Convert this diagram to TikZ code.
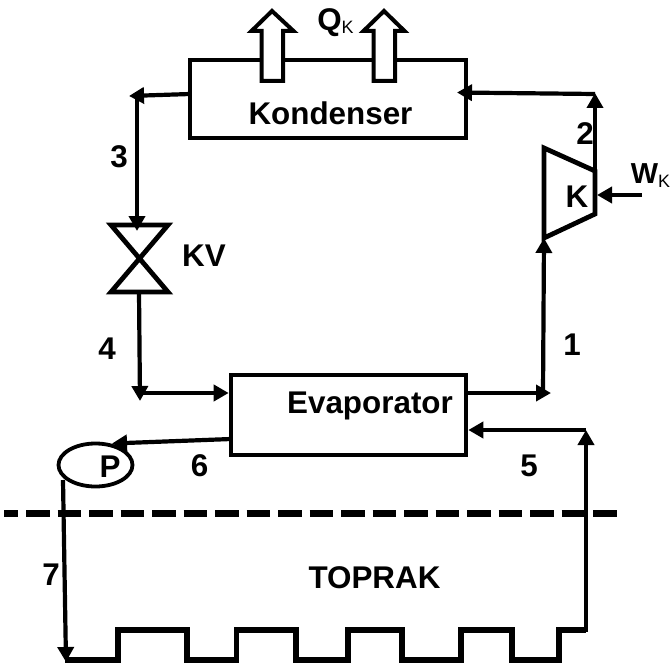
\documentclass[tikz,border=0pt]{standalone}
\usepackage{fontspec}
\setmainfont{Liberation Sans}
\usetikzlibrary{arrows.meta,shapes.geometric,calc}
\newcommand{\lbfont}{\fontsize{31.5}{31.5}\selectfont\bfseries}
\newcommand{\wfont}{\fontsize{29}{29}\selectfont\bfseries}
\newcommand{\subfont}{\fontsize{18}{18}\selectfont\mdseries}
\tikzset{
  x=1bp,y=-1bp,
  pipe/.style={line width=4.2bp,line join=miter,black},
  flow/.style={pipe,-{Triangle[length=15bp,width=16bp]}},
  equip/.style={draw=black,line width=4.6bp,fill=white,minimum width=#1,inner sep=0pt},
  body/.style={draw=black,line width=4.8bp,line join=miter},
  heat/.style={draw=black,line width=4bp,fill=white,line join=miter},
  lb/.style={font=\lbfont,inner sep=0pt,text=black,anchor=center},
  earth/.style={line width=7bp,dash pattern=on 23.5bp off 8bp,dash phase=9.5bp}
}
\begin{document}
\begin{tikzpicture}
\useasboundingbox (0,0) rectangle (672,666);
% ground line
\coordinate (gl) at (4,513); \coordinate (gr) at (617,513);
\draw[earth] (gl) -- (gr);
% equipment
\node[equip=276bp,minimum height=78bp] (kond) at (328,99) {};
\node[equip=235bp,minimum height=80bp] (evap) at (348.5,415) {};
\node[draw=black,line width=3.8bp,ellipse,minimum width=74bp,minimum height=43bp,inner sep=0pt] (pump) at (95.5,465) {};
% heat rejection arrows
\draw[heat] (261.5,81)--(261.5,31)--(251.5,31)--(272,11)--(293.5,31)--(283,31)--(283,81)--cycle;
\draw[heat] (373.5,81)--(373.5,31)--(363.5,31)--(384,11)--(404.5,31)--(395,31)--(395,81)--cycle;
% expansion valve
\coordinate (vtl) at (111,225); \coordinate (vtr) at (168,225);
\coordinate (vbl) at (111,292); \coordinate (vbr) at (168,292);
\coordinate (vt) at (138,225); \coordinate (vb) at (139,292);
\draw[body] (vtl)--(vtr)--(vbl)--(vbr)--cycle;
% compressor
\coordinate (ctl) at (544,148); \coordinate (ctr) at (595,171);
\coordinate (cbr) at (595,214); \coordinate (cbl) at (544,238);
\coordinate (cr) at (597,195);
\draw[body] (ctl)--(ctr)--(cbr)--(cbl)--cycle;
% junction coordinates
\coordinate (j3) at (137,96);
\coordinate (k3) at (190,94);
\coordinate (j2) at (595,94);
\coordinate (k2) at (466,92.5);
\coordinate (j4) at (140,393);
\coordinate (j1) at (543,393);
\coordinate (j5) at (586,430);
\coordinate (j6) at (231,439);
\coordinate (pt) at (112,443.5);
\coordinate (pd) at (63,480);
\coordinate (jw) at (65,660);
\coordinate (wr) at (642,195);
% condenser to valve
\draw[flow] (k3) -- (129,96);
\draw[flow] (j3) -- ($(vt)+(-1,6)$);
% valve to evaporator
\draw[flow] (vb) -- ($(j4)+(0,8)$);
\draw[flow] (j4) -- (evap.west |- j4);
% evaporator to compressor
\draw[flow] (evap.east |- j1) -- ($(j1)+(8,0)$);
\draw[flow] (j1) -- (cbl);
% compressor to condenser
\draw[flow] (ctr) -- ($(j2)+(0,-1)$);
\draw[flow] (j2) -- ($(k2)+(-9,0)$);
% work input
\draw[flow] (wr) -- (cr);
% ground loop
\draw[flow] (j6) -- (pt);
\draw[flow] (pd) -- ($(jw)+(1,2)$);
\draw[line width=5.6bp,line join=miter] (jw) -- (118,660) -- (118,630) -- (187,630) -- (187,660) -- (236.5,660) -- (236.5,630) -- (296,630) -- (296,660) -- (348,660) -- (348,630) -- (402,630) -- (402,660) -- (461,660) -- (461,630) -- (512,630) -- (512,660) -- (559,660) -- (559,630) -- (586,630);
\draw[flow] (586,632) -- (j5);
\draw[flow] (j5) -- (evap.east |- j5);
% labels
\node[lb] (tq) at (335.5,23) {Q\subfont\raisebox{-2.5bp}{K}};
\node[lb] (tkond) at (330.5,113) {Kondenser};
\node[lb] (tevap) at (370,406) {Evaporator};
\node[lb] (t2) at (585,134) {2};
\node[lb] (tk) at (577,197) {K};
\node[lb] (tw) at (650.5,176) {\wfont W\subfont\raisebox{-4bp}{K}};
\node[lb] (t3) at (119,157) {3};
\node[lb] (tkv) at (204,256) {KV};
\node[lb] (t4) at (107,349) {4};
\node[lb] (t1) at (572,345) {1};
\node[lb] (t5) at (529,466) {5};
\node[lb] (t6) at (199.5,466) {6};
\node[lb] (tp) at (110,467) {P};
\node[lb] (t7) at (51,575) {7};
\node[lb] (ttop) at (374.5,578) {TOPRAK};
\end{tikzpicture}
\end{document}
